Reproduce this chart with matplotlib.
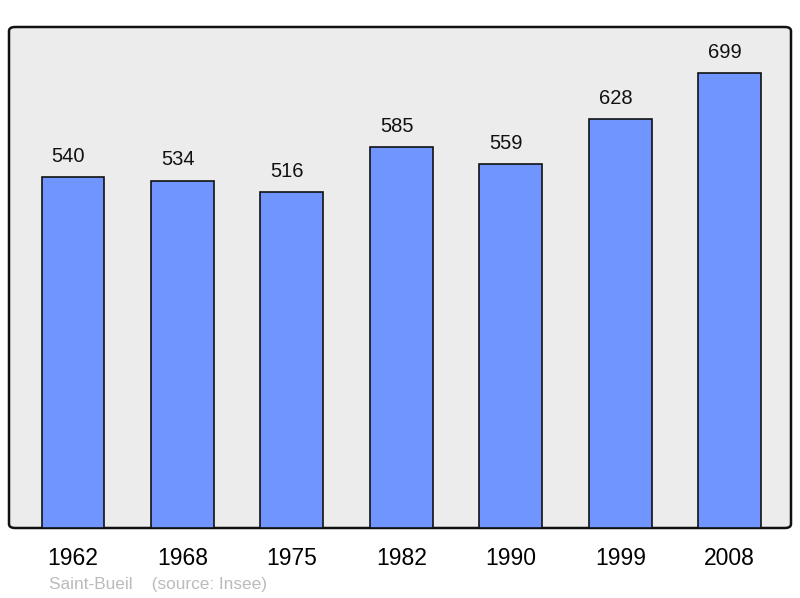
import matplotlib.pyplot as plt
from matplotlib.patches import FancyBboxPatch

years = ['1962', '1968', '1975', '1982', '1990', '1999', '2008']
population = [540, 534, 516, 585, 559, 628, 699]

plt.rcParams['font.family'] = ['Liberation Sans', 'DejaVu Sans']

fig = plt.figure(figsize=(8, 5.98), dpi=100, facecolor='white')
ax = fig.add_axes([9/800, 70/598, 782/800, 501/598])
ax.set_facecolor('none')

# rounded frame behind the bars
frame = FancyBboxPatch((0, 0), 1, 1, boxstyle='round,pad=0,rounding_size=0.008',
                       transform=ax.transAxes, facecolor='#ececec',
                       edgecolor='#111111', linewidth=1.8, zorder=0, clip_on=False)
ax.add_patch(frame)

x = range(len(years))
bars = ax.bar(x, population, width=0.575, color='#7095ff',
              edgecolor='#111111', linewidth=1.2, zorder=2)
for xi, v in zip(x, population):
    ax.annotate(str(v), (xi, v), xytext=(-3.3, 8), textcoords='offset points',
                ha='center', va='bottom', fontsize=14.5, color='#111111')

ax.set_xlim(-0.585, 6.56)
ax.set_ylim(0, 770)
ax.set_xticks(list(x))
ax.set_xticklabels(years, fontsize=16.5)
ax.tick_params(axis='x', length=0, pad=14)
ax.set_yticks([])
for s in ax.spines.values():
    s.set_visible(False)

fig.text(49/800, 1 - 584/598, 'Saint-Bueil    (source: Insee)', fontsize=12.4,
         color='#bbbbbb', ha='left', va='center')

fig.savefig('out.png', dpi=100)
